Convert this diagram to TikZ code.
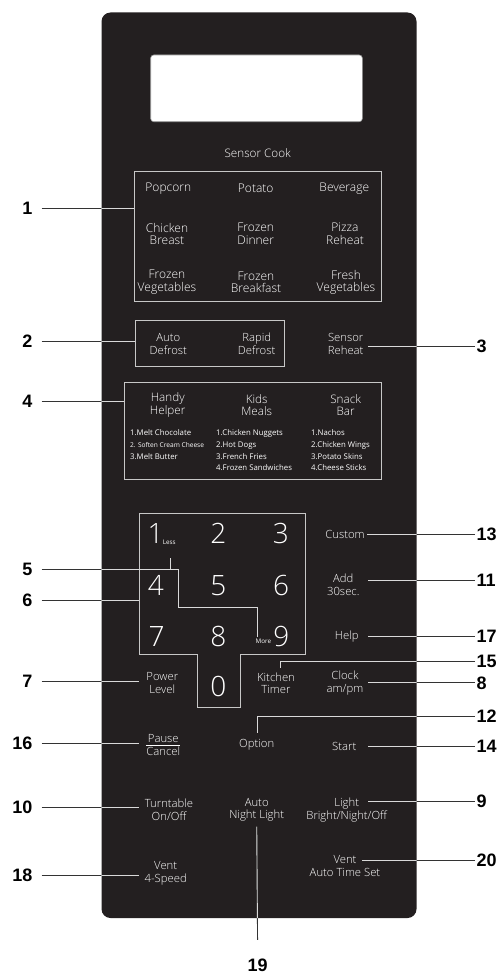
\documentclass[tikz,border=0pt]{standalone}
\usepackage{fontspec}
\IfFontExistsTF{Open Sans Light}{\setmainfont{Open Sans Light}}{\setmainfont{Open Sans}}
\newfontfamily\regfont{Open Sans}
\newfontfamily\lblfont{Liberation Sans}
\definecolor{panelc}{HTML}{231F20}
\begin{document}
\begin{tikzpicture}[x=1pt,y=-1pt,
  keyA/.style={text=white, align=center, inner sep=0pt, font=\fontsize{12}{12.6}\selectfont},
  keyB/.style={text=white, align=center, inner sep=0pt, font=\fontsize{11.3}{12.8}\selectfont},
  list/.style={text=white, align=left, inner sep=0pt, anchor=north west, font=\regfont\fontsize{7.8}{11.7}\selectfont},
  digit/.style={text=white, inner sep=0pt, font=\fontsize{28}{28}\selectfont},
  tiny/.style={text=white, inner sep=0pt, font=\regfont\fontsize{6.3}{6.3}\selectfont},
  num/.style={inner sep=0pt, font=\lblfont\bfseries\fontsize{18}{18}\selectfont},
  frame/.style={draw=black!22, line width=0.9pt, inner sep=0pt},
  lead/.style={draw=black!80, line width=0.9pt},
]
\useasboundingbox (0,0) rectangle (502,974);
% panel
\node[fill=panelc, rounded corners=9pt, minimum width=315pt, minimum height=905.5pt, inner sep=0pt] (panel) at (259,465.25) {};
\node[fill=white, draw=black!40, line width=0.6pt, rounded corners=3pt, minimum width=211.6pt, minimum height=66.7pt, inner sep=0pt] (disp) at (256.5,88.35) {};
\node[keyA, font=\fontsize{11.7}{12.6}\selectfont] (sc) at (257.7,152.7) {Sensor Cook};
% boxes
\node[frame, minimum width=246.7pt, minimum height=129.3pt] (box1) at (257.65,236.35) {};
\node[frame, minimum width=148.6pt, minimum height=46.7pt] (box2) at (210,343.35) {};
\node[frame, minimum width=257pt, minimum height=96.3pt] (box4) at (252.5,430.85) {};
\coordinate (pad) at (139.3,513.3);
\draw[frame] (pad) -- (305.7,513.3) -- (305.7,654) -- (240,654) -- (240,707.7) -- (197.7,707.7) -- (197.7,654) -- (139.3,654) -- cycle;
% box 1 texts
\node[keyA] (k1a) at (168.3,188.3) {Popcorn};
\node[keyA] (k1b) at (255.7,188.3) {Potato};
\node[keyA] (k1c) at (344.3,188.3) {Beverage};
\node[keyA] (k1d) at (167,234) {Chicken\\Breast};
\node[keyA] (k1e) at (255.7,234) {Frozen\\Dinner};
\node[keyA] (k1f) at (345,234) {Pizza\\Reheat};
\node[keyA] (k1g) at (167,282.2) {Frozen\\Vegetables};
\node[keyA] (k1h) at (256,282.2) {Frozen\\Breakfast};
\node[keyA] (k1i) at (346,282.2) {Fresh\\Vegetables};
% box 2
\node[keyB] (k2a) at (168.3,344) {Auto\\Defrost};
\node[keyB] (k2b) at (256.7,344) {Rapid\\Defrost};
\node[keyB] (k3) at (345.7,344) {Sensor\\Reheat};
% box 4
\node[keyB, font=\fontsize{11.7}{12.6}\selectfont] (k4a) at (167.7,405) {Handy\\Helper};
\node[keyB, font=\fontsize{11.7}{12.6}\selectfont] (k4b) at (256.7,405) {Kids\\Meals};
\node[keyB, font=\fontsize{11.7}{12.6}\selectfont] (k4c) at (345.7,405) {Snack\\Bar};
\node[list] (l4a) at (130,429.5) {1.Melt Chocolate\\{\fontsize{6.6}{11.7}\selectfont 2. Soften Cream Cheese}\\3.Melt Butter};
\node[list] (l4b) at (216,429.5) {1.Chicken Nuggets\\2.Hot Dogs\\3.French Fries\\4.Frozen Sandwiches};
\node[list] (l4c) at (311,429.5) {1.Nachos\\2.Chicken Wings\\3.Potato Skins\\4.Cheese Sticks};
% digits
\node[digit] (d1) at (155.5,533.3) {1};
\node[digit] (d2) at (218.3,533.3) {2};
\node[digit] (d3) at (280.8,533.3) {3};
\node[digit] (d4) at (155.8,585.8) {4};
\node[digit] (d5) at (218.3,585.8) {5};
\node[digit] (d6) at (281,585.8) {6};
\node[digit] (d7) at (156.7,636) {7};
\node[digit] (d8) at (218.3,636) {8};
\node[digit] (d9) at (281.3,636) {9};
\node[digit] (d0) at (218.3,686.3) {0};
\node[tiny] (less) at (169.2,542.5) {Less};
\node[tiny] (more) at (263.3,641.2) {More};
% right keys
\node[keyB] (k13) at (345,534.3) {Custom};
\node[keyB] (k11) at (343.3,584.7) {Add\\30sec.};
\node[keyB] (k17) at (346.7,636.7) {Help};
\node[keyB] (k15) at (276,683.3) {Kitchen\\Timer};
\node[keyB] (k8) at (345,683.3) {Clock\\am/pm};
\node[keyB] (k7) at (162.3,683.3) {Power\\Level};
\node[keyB] (k12) at (256.7,745) {Option};
\node[keyB] (k16) at (163.3,745) {Pause\\Cancel};
\draw[white, line width=0.7pt] (k16.west) -- (k16.east);
\node[keyB] (k14) at (344.3,746) {Start};
\node[keyB] (k10) at (169,809.7) {Turntable\\On/Off};
\node[keyB] (k19) at (256.7,809.7) {Auto\\Night Light};
\node[keyB] (k9) at (346.7,809.7) {Light\\Bright/Night/Off};
\node[keyB] (k18) at (165.7,873) {Vent\\4-Speed};
\node[keyB] (k20) at (345,866.3) {Vent\\Auto Time Set};
% number labels
\node[num, anchor=east] (n1) at (32.5,208.3) {1};
\node[num, anchor=east] (n2) at (32.5,341.7) {2};
\node[num, anchor=east] (n4) at (32.5,401) {4};
\node[num, anchor=east] (n5) at (32.5,569.5) {5};
\node[num, anchor=east] (n6) at (32.5,600.3) {6};
\node[num, anchor=east] (n7) at (32.5,681.5) {7};
\node[num, anchor=east] (n16) at (32.5,743) {16};
\node[num, anchor=east] (n10) at (32.5,807.5) {10};
\node[num, anchor=east] (n18) at (32.5,875) {18};
\node[num, anchor=west] (n3) at (476.5,346) {3};
\node[num, anchor=west] (n13) at (476.5,534.2) {13};
\node[num, anchor=west] (n11) at (476.5,580.8) {11};
\node[num, anchor=west] (n17) at (476.5,636.7) {17};
\node[num, anchor=west] (n15) at (476.5,661) {15};
\node[num, anchor=west] (n8) at (476.5,682.8) {8};
\node[num, anchor=west] (n12) at (476.5,716.7) {12};
\node[num, anchor=west] (n14) at (476.5,746.7) {14};
\node[num, anchor=west] (n9) at (476.5,801.5) {9};
\node[num, anchor=west] (n20) at (476.5,860) {20};
\node[num] (n19) at (257.7,965) {19};
% leader coordinates
\coordinate (rx) at (368.3,0);
\coordinate (rx13) at (366.7,0);
\coordinate (rx20) at (361.7,0);
\coordinate (p5a) at (178.3,607.7);
\coordinate (p5b) at (257.7,636.7);
\coordinate (p5l) at (170,558.3);
\coordinate (c15) at (280,668.3);
\coordinate (c12) at (257.7,733.3);
\newcommand\drawleaderlines{%
  \draw[lead, shorten <=9.2pt] (n1.east) -- (n1.east -| box1.west);
  \draw[lead, shorten <=9.2pt] (n2.east) -- (n2.east -| box2.west);
  \draw[lead, shorten <=9.2pt] (n4.east) -- (n4.east -| box4.west);
  \draw[lead, shorten <=9.2pt] (n5.east) -| (p5a) -| (p5b);
  \draw[lead] (p5l) -- (p5l |- n5.east);
  \draw[lead, shorten <=9.2pt] (n6.east) -- (n6.east -| pad);
  \draw[lead, shorten <=9.2pt] (n7.east) -- (n7.east -| pad);
  \draw[lead, shorten <=9.2pt] (n16.east) -- (n16.east -| pad);
  \draw[lead, shorten <=9.2pt] (n10.east) -- (n10.east -| pad);
  \draw[lead, shorten <=9.2pt] (n18.east) -- (n18.east -| pad);
  \draw[lead, shorten <=1.5pt] (n3.west) -- (n3.west -| rx);
  \draw[lead, shorten <=1.5pt] (n13.west) -- (n13.west -| rx13);
  \draw[lead, shorten <=1.5pt] (n11.west) -- (n11.west -| rx);
  \draw[lead, shorten <=1.5pt] (n17.west) -- (n17.west -| rx);
  \draw[lead, shorten <=1.5pt] (n8.west) -- (n8.west -| rx);
  \draw[lead, shorten <=1.5pt] (n14.west) -- (n14.west -| rx);
  \draw[lead, shorten <=1.5pt] (n9.west) -- (n9.west -| rx);
  \draw[lead, shorten <=1.5pt] (n20.west) -- (n20.west -| rx20);
  \draw[lead, shorten <=1.5pt] (n15.west) -| (c15);
  \draw[lead, shorten <=1.5pt] (n12.west) -| (c12);
  \draw[lead, shorten <=5pt, shorten >=18.5pt] (k19.south) -- (n19.north);
}
\drawleaderlines
\begin{scope}
  \clip[rounded corners=9pt] (panel.south west) rectangle (panel.north east);
  \tikzset{lead/.style={draw=white!85!black, line width=0.9pt}}
  \drawleaderlines
\end{scope}
\end{tikzpicture}
\end{document}
